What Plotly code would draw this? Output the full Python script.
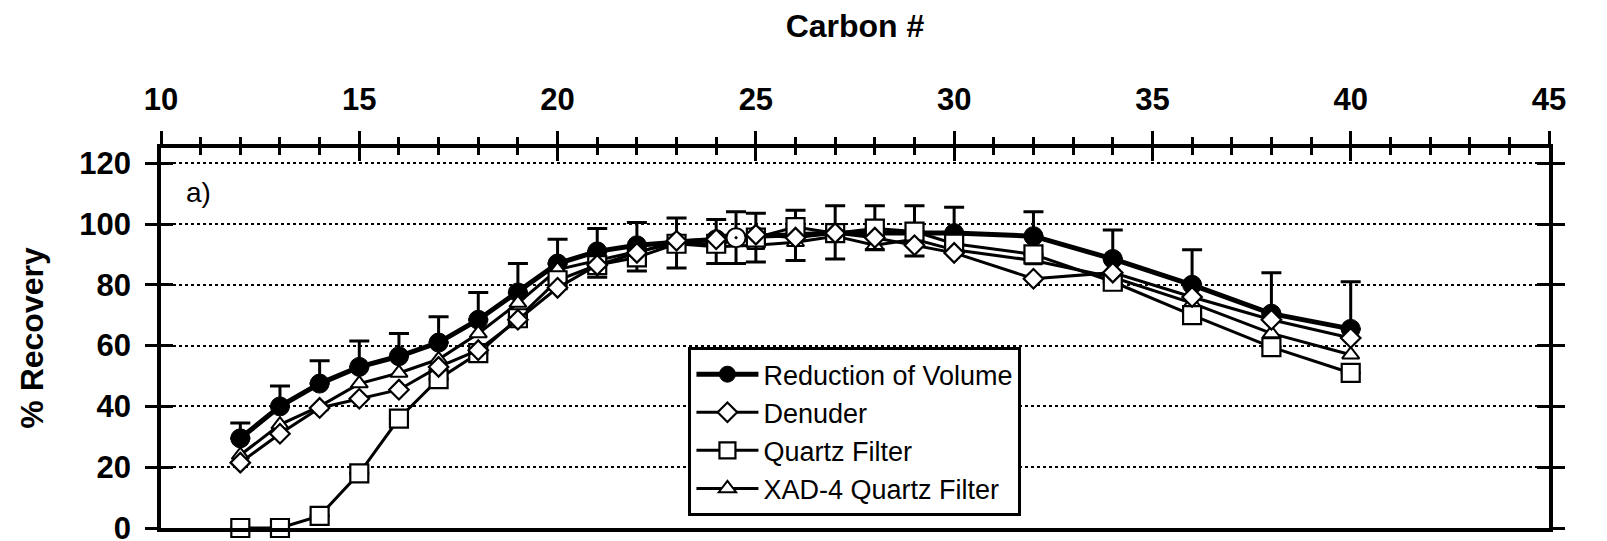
import plotly.graph_objects as go

# ---------------- data ----------------
carbon = [12, 13, 14, 15, 16, 17, 18, 19, 20, 21, 22, 23, 24, 25, 26, 27, 28, 29, 30, 32, 34, 36, 38, 40]

reduction_volume = [29.5, 40, 47.5, 53, 56.5, 61, 68.5, 77.5, 87, 91, 93, 94, 95, 96, 96.5, 97, 97, 97, 97, 96, 88.5, 80, 70.5, 65.5]
reduction_volume_err = [5, 6.7, 7.5, 8.5, 7.5, 8.5, 9, 9.5, 8, 7.5, 7.5, 8, 6.5, 7.5, 8, 9, 9, 9, 8.5, 8, 9.5, 11.5, 13.5, 15.5]

denuder = [21.5, 31, 39.5, 42.5, 45.5, 53, 58.5, 68.5, 79, 86.5, 90.5, 94.5, 95, 96.5, 95.5, 97, 95.5, 93, 90.5, 82, 84, 76, 68.5, 62.5]

quartz_filter = [0, 0, 4, 18, 36, 49, 57.5, 69, 81.5, 86.5, 89, 93.5, 93.5, 95.5, 99, 97, 98.5, 97.5, 93.5, 90, 81, 70, 59.5, 51]
quartz_filter_err_minus = [0, 0, 0, 0, 0, 0, 0, 0, 0, 4, 4.5, 8, 6.5, 8, 11, 8.5, 7, 8, 0, 0, 0, 0, 0, 0]

xad4_quartz = [24, 34, 40, 47.5, 51, 55.5, 64, 74, 85, 88, 91, 93.5, 92.5, 93, 94, 96, 93, 95, 91.5, 88, 82.5, 74, 64, 57]

extra_x = [24.5]
extra_y = [95.5]
extra_err = [8.5]

x_ticks = [10, 15, 20, 25, 30, 35, 40, 45]
y_ticks = [0, 20, 40, 60, 80, 100, 120]

FONT = "Liberation Sans, Arial, sans-serif"

fig = go.Figure()

fig.add_trace(go.Scatter(
    x=carbon, y=reduction_volume, name="Reduction of Volume", legendrank=1,
    mode="lines+markers",
    line=dict(color="black", width=5),
    marker=dict(symbol="circle", size=19, color="black", line=dict(color="black", width=1)),
    error_y=dict(type="data", array=reduction_volume_err, arrayminus=[0] * len(carbon),
                 symmetric=False, color="black", thickness=3, width=10),
))

fig.add_trace(go.Scatter(
    x=carbon, y=xad4_quartz, name="XAD-4 Quartz Filter", legendrank=4,
    mode="lines+markers",
    line=dict(color="black", width=3),
    marker=dict(symbol="triangle-up", size=15, color="white", line=dict(color="black", width=2)),
))

fig.add_trace(go.Scatter(
    x=carbon, y=quartz_filter, name="Quartz Filter", legendrank=3,
    mode="lines+markers", cliponaxis=False,
    line=dict(color="black", width=3),
    marker=dict(symbol="square", size=18, color="white", line=dict(color="black", width=2.2)),
    error_y=dict(type="data", array=[0] * len(carbon), arrayminus=quartz_filter_err_minus,
                 symmetric=False, color="black", thickness=3, width=10),
))

fig.add_trace(go.Scatter(
    x=carbon, y=denuder, name="Denuder", legendrank=2,
    mode="lines+markers",
    line=dict(color="black", width=3),
    marker=dict(symbol="diamond", size=15, color="white", line=dict(color="black", width=2.2)),
))

fig.add_trace(go.Scatter(
    x=extra_x, y=extra_y, xaxis="x2", yaxis="y2", showlegend=False,
    mode="markers",
    marker=dict(symbol="circle-dot", size=19, color="white", line=dict(color="black", width=2)),
    error_y=dict(type="data", array=extra_err, color="black", thickness=3, width=10),
))

fig.add_annotation(x=10.95, y=110.5, xref="x", yref="y", text="a)", showarrow=False,
                   font=dict(family=FONT, size=28, color="black"))

axis_font = dict(family=FONT, size=31, color="black", weight="bold")

# the page body adds an 8px offset; margins compensate so the plot lands where the reference has it
fig.update_layout(
    width=1607, height=541,
    margin=dict(l=153, r=66, t=140, b=21),
    paper_bgcolor="white", plot_bgcolor="white",
    font=dict(family=FONT, color="black"),
    xaxis=dict(
        range=[10, 45], side="top", tickvals=x_ticks, automargin=False,
        ticks="outside", ticklen=13, tickwidth=3, tickcolor="black",
        minor=dict(dtick=1, tick0=10, ticks="outside", ticklen=7, tickwidth=3, tickcolor="black", showgrid=False),
        showline=True, linewidth=3.5, linecolor="black", mirror=True,
        showgrid=False, zeroline=False,
        tickfont=axis_font, ticklabelstandoff=9,
        title=dict(text="Carbon #", font=dict(family=FONT, size=32, color="black", weight="bold"), standoff=36),
    ),
    xaxis2=dict(
        range=[10, 45], matches="x", overlaying="x", side="top", tickvals=x_ticks, automargin=False,
        ticks="inside", ticklen=13, tickwidth=3, tickcolor="black",
        minor=dict(dtick=1, tick0=10, ticks="inside", ticklen=7, tickwidth=3, tickcolor="black", showgrid=False),
        showticklabels=False, showline=False, showgrid=False, zeroline=False,
    ),
    yaxis=dict(
        range=[0, 125], tickvals=y_ticks, automargin=False,
        ticks="outside", ticklen=12, tickwidth=3, tickcolor="black",
        showline=True, linewidth=3.5, linecolor="black", mirror="ticks",
        showgrid=True, gridcolor="black", gridwidth=1.5, griddash="dot", zeroline=False,
        tickfont=axis_font, ticklabelstandoff=8,
        title=dict(text="% Recovery", font=dict(family=FONT, size=32, color="black", weight="bold"), standoff=27),
    ),
    yaxis2=dict(
        range=[0, 125], matches="y", overlaying="y", side="left", tickvals=y_ticks, automargin=False,
        ticks="inside", ticklen=12, tickwidth=3, tickcolor="black", mirror="ticks",
        showticklabels=False, showline=False, showgrid=False, zeroline=False,
    ),
    legend=dict(
        x=0.38, y=0.476, xanchor="left", yanchor="top",
        bgcolor="white", bordercolor="black", borderwidth=3,
        font=dict(family=FONT, size=27, color="black"),
        itemwidth=62, tracegroupgap=0,
    ),
    showlegend=True,
)

fig.write_html("out.html")
